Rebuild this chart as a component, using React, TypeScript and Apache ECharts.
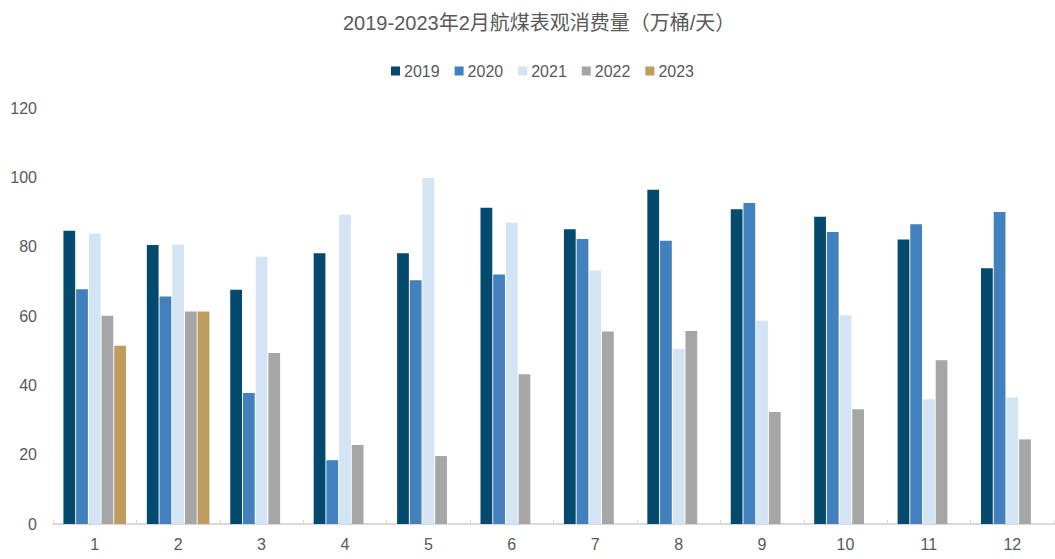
import React, { useEffect, useRef } from "react";
import * as echarts from "echarts";

const months = ["1", "2", "3", "4", "5", "6", "7", "8", "9", "10", "11", "12"];
const years = ["2019", "2020", "2021", "2022", "2023"];
const colors = ["#044A6F", "#4380BE", "#D3E4F4", "#A6A6A6", "#C09C5C"];
const v2019 = [84.6, 80.5, 67.6, 78.1, 78.1, 91.2, 85.0, 96.4, 90.8, 88.6, 82.1, 73.8];
const v2020 = [67.7, 65.6, 37.8, 18.4, 70.3, 72.0, 82.2, 81.7, 92.6, 84.2, 86.5, 90.0];
const v2021 = [83.8, 80.6, 77.1, 89.2, 99.8, 86.9, 73.1, 50.5, 58.6, 60.2, 36.0, 36.5];
const v2022 = [60.1, 61.3, 49.3, 22.8, 19.6, 43.2, 55.5, 55.7, 32.3, 33.1, 47.2, 24.4];
const v2023: (number | null)[] = [51.4, 61.3, null, null, null, null, null, null, null, null, null, null];
const yTicks = { min: 0, max: 120, interval: 20 };

const FONT = "'Liberation Sans', Arial, 'Noto Sans CJK SC', sans-serif";

export default function App() {
  const ref = useRef<HTMLDivElement>(null);
  useEffect(() => {
    if (!ref.current) return;
    const chart = echarts.init(ref.current, undefined, { renderer: "svg" });
    const data = [v2019, v2020, v2021, v2022, v2023];
    chart.setOption({
      animation: false,
      textStyle: { fontFamily: FONT },
      title: {
        text: "2019-2023年2月航煤表观消费量（万桶/天）",
        left: 338,
        top: 8,
        textStyle: { fontSize: 20, fontWeight: "normal", color: "#595959", fontFamily: FONT },
      },
      legend: {
        data: years,
        top: 58,
        left: 386,
        itemWidth: 9,
        itemHeight: 9,
        itemGap: 15,
        icon: "rect",
        textStyle: { fontSize: 16, color: "#595959", fontFamily: FONT, padding: [0, 0, 0, -1] },
      },
      grid: { left: 53, right: 1, top: 108, bottom: 35, containLabel: false },
      xAxis: {
        type: "category",
        data: months,
        axisLine: { lineStyle: { color: "#D9D9D9", width: 2 } },
        axisTick: { show: true, inside: true, length: 4, lineStyle: { color: "#D9D9D9", width: 1 } },
        axisLabel: { fontSize: 16, color: "#595959", margin: 12, fontFamily: FONT },
      },
      yAxis: {
        type: "value",
        min: yTicks.min,
        max: yTicks.max,
        interval: yTicks.interval,
        axisLine: { show: false },
        axisTick: { show: false },
        splitLine: { show: false },
        axisLabel: { fontSize: 16, color: "#595959", margin: 16, fontFamily: FONT },
      },
      series: years.map((y, i) => ({
        name: y,
        type: "bar",
        data: data[i],
        barGap: "8%",
        barCategoryGap: "25%",
        itemStyle: { color: colors[i] },
      })),
    });
    return () => chart.dispose();
  }, []);
  return (
    <div
      ref={ref}
      style={{ position: "absolute", left: 0, top: 0, width: 1055, height: 559, background: "#fff" }}
    />
  );
}
